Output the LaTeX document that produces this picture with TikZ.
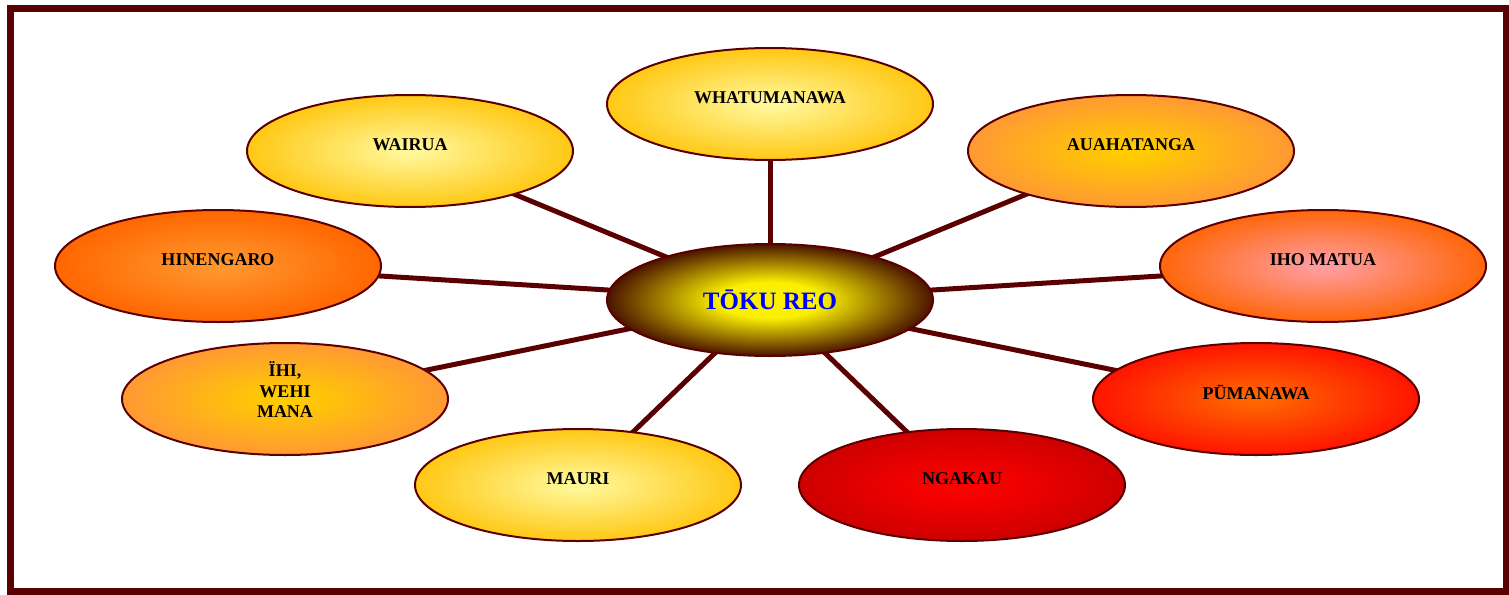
\documentclass[tikz,border=0pt]{standalone}
\usepackage{fontspec}
\setmainfont{Liberation Serif}
\usetikzlibrary{shapes.geometric}
\definecolor{dred}{RGB}{90,0,0}
\definecolor{ylin}{RGB}{255,246,150}
\definecolor{ylout}{RGB}{255,200,20}
\definecolor{goin}{RGB}{255,204,0}
\definecolor{goout}{RGB}{255,153,51}
\definecolor{hiin}{RGB}{255,150,45}
\definecolor{hiout}{RGB}{255,102,0}
\definecolor{ihin}{RGB}{255,155,155}
\definecolor{ihout}{RGB}{255,102,10}
\definecolor{puin}{RGB}{255,102,0}
\definecolor{puout}{RGB}{255,20,0}
\definecolor{ngin}{RGB}{255,0,0}
\definecolor{ngout}{RGB}{205,0,0}
\definecolor{cin}{RGB}{250,240,0}
\definecolor{cout}{RGB}{75,20,0}
\definecolor{tblue}{RGB}{0,0,255}
\colorlet{rin}{white}
\colorlet{rout}{black}
\pgfdeclareradialshading[rin,rout]{bubbleshade}{\pgfpoint{0bp}{0bp}}{%
  color(0bp)=(rin); color(2bp)=(rin); color(25bp)=(rout); color(50bp)=(rout)}
\pgfdeclareradialshading[rin,rout]{centershade}{\pgfpoint{0bp}{0bp}}{%
  color(0bp)=(rin); color(8bp)=(rin); color(25bp)=(rout); color(50bp)=(rout)}
\newcommand{\raiseup}[1]{\raisebox{6pt}[\height][\depth]{#1}}
\tikzset{
  bubble/.style={ellipse, draw=dred, line width=2pt, minimum width=326pt, minimum height=112pt,
    inner sep=0pt, font=\fontsize{18}{20.5}\selectfont\bfseries, text=black},
  fillwith/.style 2 args={/utils/exec={\colorlet{rin}{#1}\colorlet{rout}{#2}}, shading=bubbleshade},
  spoke/.style={draw=dred, line width=5pt},
  frame/.style={draw=dred, line width=7pt}
}
\begin{document}
\begin{tikzpicture}[x=1pt,y=-1pt]
\useasboundingbox (0,0) rectangle (1509,594);
\draw[frame] (10.5,8.5) rectangle (1506,591);
% positions
\coordinate (pc) at (770,300);
\coordinate (p1) at (770,104);
\coordinate (p2) at (410,151);
\coordinate (p3) at (1131,151);
\coordinate (p4) at (218,266);
\coordinate (p5) at (1323,266);
\coordinate (p6) at (285,399);
\coordinate (p7) at (1256,399);
\coordinate (p8) at (578,485);
\coordinate (p9) at (962,485);
% spokes
\foreach \p in {p1,p2,p3,p4,p5,p6,p7,p8,p9}
  \draw[spoke] (pc) -- (\p);
% bubbles
\node[bubble, fillwith={ylin}{ylout}] (whatu) at (p1) {\raiseup{WHATUMANAWA}};
\node[bubble, fillwith={ylin}{ylout}] (wairua) at (p2) {\raiseup{WAIRUA}};
\node[bubble, fillwith={goin}{goout}] (auaha) at (p3) {\raiseup{AUAHATANGA}};
\node[bubble, fillwith={hiin}{hiout}] (hineng) at (p4) {\raiseup{HINENGARO}};
\node[bubble, fillwith={ihin}{ihout}] (iho) at (p5) {\raiseup{IHO MATUA}};
\node[bubble, fillwith={goin}{goout}] (ihi) at (p6) {\raiseup{\begin{tabular}{@{}c@{}}ÏHI,\\WEHI\\MANA\end{tabular}}};
\node[bubble, fillwith={puin}{puout}] (puman) at (p7) {\raiseup{PŪMANAWA}};
\node[bubble, fillwith={ylin}{ylout}] (mauri) at (p8) {\raiseup{MAURI}};
\node[bubble, fillwith={ngin}{ngout}] (ngakau) at (p9) {\raiseup{NGAKAU}};
\node[bubble, fillwith={cin}{cout}, shading=centershade, font=\fontsize{25}{28}\selectfont\bfseries, text=tblue] (toku) at (pc) {TŌKU REO};
\end{tikzpicture}
\end{document}
